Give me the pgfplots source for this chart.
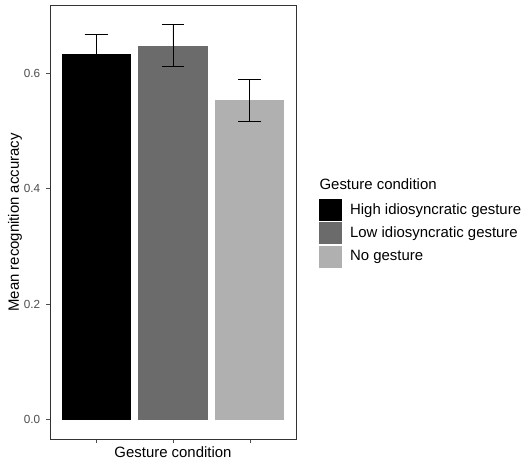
\documentclass[border=0pt]{standalone}
\usepackage{fontspec}
\setmainfont{Liberation Sans}
\usepackage{pgfplots}
\pgfplotsset{compat=1.18}
\definecolor{gbar}{HTML}{6B6B6B}
\definecolor{lbar}{HTML}{B0B0B0}
\definecolor{tickgray}{HTML}{4D4D4D}
\definecolor{framegray}{HTML}{333333}
\begin{document}
\begin{tikzpicture}
% picture frame: 525 x 463 px at 0.75pt per px, origin at panel's lower left
\useasboundingbox (-37.5pt,-17.775pt) rectangle (356.25pt,329.475pt);
\begin{axis}[
  scale only axis, width=184.5pt, height=325.2pt,
  xmin=0.4, xmax=3.6, ymin=-0.0342, ymax=0.7172,
  ybar, bar width=0.9, bar shift=0pt,
  xtick={1,2,3}, xticklabels={,,},
  ytick={0,0.2,0.4,0.6},
  xtick pos=bottom, ytick pos=left,
  tick align=outside, major tick length=2.8pt,
  tick style={tickgray, line width=0.5pt},
  axis line style={framegray, line width=0.6pt},
  /pgf/number format/assume math mode=true,
  yticklabel style={/pgf/number format/fixed, /pgf/number format/fixed zerofill,
    /pgf/number format/precision=1, font=\fontsize{8.8}{10}\selectfont,
    text=tickgray, xshift=-1pt},
  xlabel={Gesture condition}, ylabel={Mean recognition accuracy},
  label style={font=\fontsize{11.2}{13}\selectfont},
  xlabel style={at={(axis description cs:0.5,0)}, anchor=base, yshift=-13.3pt},
  ylabel style={at={(axis description cs:0,0.5)}, anchor=center, yshift=26.25pt},
  error bars/y dir=both, error bars/y explicit,
  error bars/error bar style={draw=black, line width=0.6pt},
  error bars/error mark options={draw=black, line width=0.6pt, mark size=8.6pt, rotate=90},
  legend image code/.code={\fill[#1, draw=none] (0pt,-8.3pt) rectangle (17.5pt,8.3pt);},
  legend cell align=left,
  legend style={draw=none, fill=none, inner sep=0pt, at={(1.0905,0.5575)}, anchor=north west,
    row sep=0pt, font=\fontsize{11.2}{13}\selectfont,
    nodes={inner sep=0pt, minimum height=17.7pt, anchor=west},
    /tikz/every odd column/.append style={column sep=6.2pt}},
]
\addplot[fill=black, draw=none] coordinates {(1,0.633) +- (0,0.035)};
\addplot[fill=gbar, draw=none] coordinates {(2,0.648) +- (0,0.036)};
\addplot[fill=lbar, draw=none] coordinates {(3,0.553) +- (0,0.037)};
\legend{High idiosyncratic gesture, Low idiosyncratic gesture, No gesture}
\end{axis}
\node[anchor=base west, font=\fontsize{11.2}{13}\selectfont, inner sep=0pt] at (202pt,187.7pt) {Gesture condition};
\end{tikzpicture}
\end{document}
